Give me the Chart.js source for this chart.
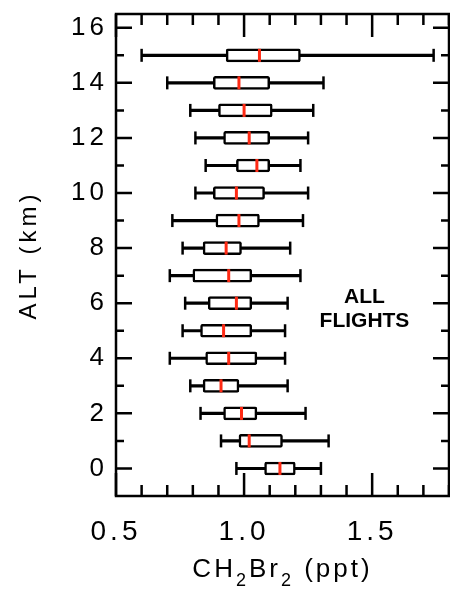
<!DOCTYPE html>
<html>
<head>
<meta charset="utf-8">
<script src="https://cdn.jsdelivr.net/npm/chart.js@4.4.1/dist/chart.umd.min.js"></script>
<style>
  html, body { margin: 0; padding: 0; background: #fff; }
  #wrap { width: 450px; height: 590px; }
</style>
</head>
<body>
<div id="wrap"><canvas id="chart" width="450" height="590"></canvas></div>
<script>
// altitude bins (km) and CH2Br2 box stats per bin (ppt)
const altitudes   = [0, 1, 2, 3, 4, 5, 6, 7, 8, 9, 10, 11, 12, 13, 14, 15];
const whiskerLow  = [0.97, 0.91, 0.83, 0.79, 0.71, 0.76, 0.77, 0.71, 0.76, 0.72, 0.81, 0.85, 0.81, 0.79, 0.70, 0.60];
const boxLow      = [1.08, 0.98, 0.92, 0.84, 0.85, 0.83, 0.86, 0.80, 0.84, 0.89, 0.88, 0.97, 0.92, 0.90, 0.88, 0.93];
const medians     = [1.14, 1.02, 0.99, 0.91, 0.94, 0.92, 0.97, 0.94, 0.93, 0.98, 0.97, 1.05, 1.02, 1.00, 0.98, 1.06];
const boxHigh     = [1.20, 1.15, 1.05, 0.98, 1.05, 1.03, 1.03, 1.03, 0.99, 1.06, 1.08, 1.10, 1.10, 1.11, 1.10, 1.22];
const whiskerHigh = [1.30, 1.33, 1.24, 1.17, 1.16, 1.16, 1.17, 1.22, 1.18, 1.23, 1.25, 1.22, 1.25, 1.27, 1.31, 1.74];

const xTickValues = [0.5, 1.0, 1.5];
const yTickValues = [0, 2, 4, 6, 8, 10, 12, 14, 16];
// x title pieces: [text, isSubscript]
const xTitleParts = [['CH', false], ['2', true], ['Br', false], ['2', true], [' (ppt)', false]];
const yTitle = 'ALT (km)';
const noteLines = ['ALL', 'FLIGHTS'];

const FONT = '"Liberation Sans", Arial, sans-serif';

// frame with inward ticks on all four sides, x title, note
const framePlugin = {
    id: 'frame',
    beforeDraw(chart) {
        chart.ctx.letterSpacing = '4px';
    },
    afterDatasetsDraw(chart) {
        const {ctx, chartArea: a, scales: {x, y}} = chart;
        ctx.save();
        ctx.letterSpacing = '0px';
        ctx.strokeStyle = '#000';
        ctx.lineWidth = 2.5;
        ctx.strokeRect(a.left, a.top, a.right - a.left, a.bottom - a.top);
        ctx.beginPath();
        for (let i = 5; i <= 18; i++) {
            const px = x.getPixelForValue(i / 10);
            const len = i % 5 === 0 ? 23 : 11;
            ctx.moveTo(px, a.bottom); ctx.lineTo(px, a.bottom - len);
            ctx.moveTo(px, a.top); ctx.lineTo(px, a.top + len);
        }
        for (let v = 0; v <= 16; v++) {
            const py = y.getPixelForValue(v);
            const len = v % 2 === 0 ? 16 : 8;
            ctx.moveTo(a.left, py); ctx.lineTo(a.left + len, py);
            ctx.moveTo(a.right, py); ctx.lineTo(a.right - len, py);
        }
        ctx.stroke();

        ctx.fillStyle = '#000';
        ctx.font = 'bold 21px ' + FONT;
        ctx.textAlign = 'center';
        ctx.textBaseline = 'alphabetic';
        const nx = x.getPixelForValue(1.47);
        const ny = y.getPixelForValue(6.0);
        noteLines.forEach((t, i) => ctx.fillText(t, nx, ny + i * 24));

        // x axis title with subscripts
        ctx.letterSpacing = '3px';
        ctx.textAlign = 'left';
        const big = '26px ' + FONT, small = '18px ' + FONT;
        let w = 0;
        xTitleParts.forEach(([t, sub]) => { ctx.font = sub ? small : big; w += ctx.measureText(t).width; });
        let tx = (a.left + a.right) / 2 - w / 2;
        const base = 577;
        xTitleParts.forEach(([t, sub]) => {
            ctx.font = sub ? small : big;
            ctx.fillText(t, tx, sub ? base + 9 : base);
            tx += ctx.measureText(t).width;
        });
        ctx.restore();
    }
};

const capPoints = altitudes.flatMap((a, i) => [{x: whiskerLow[i], y: a}, {x: whiskerHigh[i], y: a}]);

new Chart(document.getElementById('chart'), {
    type: 'bar',
    data: {
        datasets: [
            {
                type: 'scatter',
                order: 0,
                data: altitudes.map((a, i) => ({x: medians[i], y: a})),
                pointStyle: 'line',
                rotation: 90,
                pointRadius: 6.5,
                borderWidth: 3,
                borderColor: '#ff2a14'
            },
            {
                order: 1,
                indexAxis: 'y',
                grouped: false,
                data: altitudes.map((a, i) => ({x: [boxLow[i], boxHigh[i]], y: a})),
                barThickness: 13,
                backgroundColor: '#ffffff',
                borderColor: '#000000',
                borderWidth: 2.5,
                borderRadius: 2,
                borderSkipped: false
            },
            {
                type: 'scatter',
                order: 2,
                data: capPoints,
                pointStyle: 'line',
                rotation: 90,
                pointRadius: 6.5,
                borderWidth: 2.5,
                borderColor: '#000000'
            },
            {
                order: 3,
                indexAxis: 'y',
                grouped: false,
                data: altitudes.map((a, i) => ({x: [whiskerLow[i], whiskerHigh[i]], y: a})),
                barThickness: 2.5,
                backgroundColor: '#000000',
                borderWidth: 0
            }
        ]
    },
    options: {
        responsive: false,
        animation: false,
        events: [],
        layout: {autoPadding: false, padding: {top: 14, right: 1, left: 0, bottom: 0}},
        plugins: {legend: {display: false}, tooltip: {enabled: false}},
        scales: {
            x: {
                type: 'linear',
                position: 'bottom',
                offset: false,
                beginAtZero: false,
                min: 0.5,
                max: 1.8,
                grid: {display: false, drawTicks: false, offset: false},
                border: {display: false},
                afterBuildTicks: s => { s.ticks = xTickValues.map(v => ({value: v})); },
                afterFit: s => { s.height = 94; s.paddingLeft = 0; s.paddingRight = 0; },
                ticks: {
                    autoSkip: false,
                    maxRotation: 0,
                    padding: 19,
                    color: '#000',
                    font: {family: FONT, size: 28},
                    callback: v => v.toFixed(1)
                },
                title: {display: false}
            },
            y: {
                type: 'linear',
                position: 'left',
                offset: false,
                beginAtZero: false,
                min: -1,
                max: 16.5,
                grid: {display: false, drawTicks: false, offset: false},
                border: {display: false},
                afterBuildTicks: s => { s.ticks = yTickValues.map(v => ({value: v})); },
                afterFit: s => { s.width = 116; s.paddingTop = 0; s.paddingBottom = 0; },
                ticks: {
                    autoSkip: false,
                    padding: 8,
                    color: '#000',
                    font: {family: FONT, size: 26},
                    callback: v => String(v)
                },
                title: {
                    display: true,
                    text: yTitle,
                    color: '#000',
                    font: {family: FONT, size: 24},
                    padding: {top: 15, bottom: 0}
                }
            }
        }
    },
    plugins: [framePlugin]
});
</script>
</body>
</html>
